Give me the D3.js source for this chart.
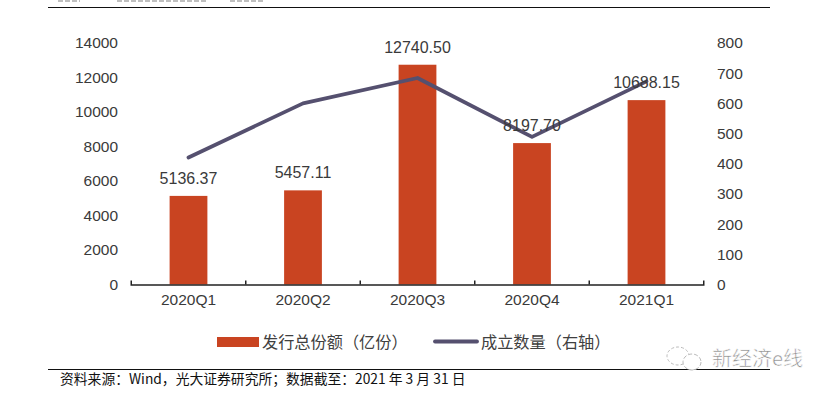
<!DOCTYPE html>
<html>
<head>
<meta charset="utf-8">
<script src="https://cdn.jsdelivr.net/npm/d3@7/dist/d3.min.js"></script>
<style>
html,body{margin:0;padding:0;background:#fff;overflow:hidden}
svg{display:block}
.num{font-family:"Liberation Sans",Arial,sans-serif;fill:#3a3a3a}
.cjk{font-family:"Noto Sans CJK SC",sans-serif;fill:#404040}
</style>
</head>
<body>
<div id="chart"></div>
<script>
const categories = ["2020Q1","2020Q2","2020Q3","2020Q4","2021Q1"];
const issueTotal = [5136.37,5457.11,12740.50,8197.70,10688.15];
const issueLabels = ["5136.37","5457.11","12740.50","8197.70","10688.15"];
const foundedCount = [421,600,684,489,673];
const leftTicks = [0,2000,4000,6000,8000,10000,12000,14000];
const rightTicks = [0,100,200,300,400,500,600,700,800];
const legendBar = "发行总份额（亿份）";
const legendLine = "成立数量（右轴）";
const sourceNote = "资料来源：Wind，光大证券研究所；数据截至：2021 年 3 月 31 日";
const watermark = "新经济e线";

const BAR = "#c94421", LINE = "#55506f", INK = "#3a3a3a";
const svg = d3.select("#chart").append("svg").attr("width",828).attr("height",393);

const x = d3.scaleBand().domain(categories).range([131.25,703.75]).paddingInner(0.67).paddingOuter(0.335);
const yL = d3.scaleLinear().domain([0,14000]).range([284.5,43]);
const yR = d3.scaleLinear().domain([0,800]).range([284.5,43]);
const cx = d => x(d)+x.bandwidth()/2;

// rules, with remnants of the cropped heading above the top one
svg.append("line").attr("x1",48).attr("x2",770).attr("y1",7.5).attr("y2",7.5).attr("stroke","#111").attr("stroke-width",1.2);
svg.append("line").attr("x1",48).attr("x2",770).attr("y1",369.5).attr("y2",369.5).attr("stroke","#111").attr("stroke-width",1.2);
svg.selectAll("line.rem").data([[58,80],[117,208],[230,263]]).join("line")
  .attr("x1",d=>d[0]).attr("x2",d=>d[1]).attr("y1",1).attr("y2",1)
  .attr("stroke","#aaa").attr("stroke-width",1.6).attr("stroke-dasharray","5 2");

// bars
svg.selectAll("rect.bar").data(categories).join("rect").attr("class","bar")
  .attr("x",d=>x(d)).attr("width",x.bandwidth())
  .attr("y",(d,i)=>yL(issueTotal[i])).attr("height",(d,i)=>yL(0)-yL(issueTotal[i]))
  .attr("fill",BAR);

// axes
const gx = svg.append("g").attr("transform",`translate(0,${yL(0)+0.5})`)
  .call(d3.axisBottom(x).tickSize(0).tickPadding(9));
gx.select(".domain").remove();
gx.selectAll("text").attr("class","num").style("font-size","15.5px").attr("fill",INK);
const edges = d3.range(categories.length+1).map(i=>x.range()[0]+i*x.step());
svg.append("path").attr("fill","none").attr("stroke","#222").attr("stroke-width",1.5)
  .attr("d",`M${edges[0]},${yL(0)-4}V${yL(0)+0.5}H${edges[5]}V${yL(0)-4}`);
svg.selectAll("line.tk").data(edges.slice(1,5)).join("line")
  .attr("x1",d=>d).attr("x2",d=>d).attr("y1",yL(0)-4).attr("y2",yL(0))
  .attr("stroke","#222").attr("stroke-width",1.5);

const gl = svg.append("g").attr("transform","translate(118,0)")
  .call(d3.axisLeft(yL).tickValues(leftTicks).tickFormat(d3.format("d")).tickSize(0).tickPadding(0));
gl.select(".domain").remove();
gl.selectAll("text").attr("class","num").style("font-size","15.5px");
const gr = svg.append("g").attr("transform","translate(717,0)")
  .call(d3.axisRight(yR).tickValues(rightTicks).tickFormat(d3.format("d")).tickSize(0).tickPadding(0));
gr.select(".domain").remove();
gr.selectAll("text").attr("class","num").style("font-size","15.5px");

// line
svg.append("path").datum(foundedCount).attr("fill","none").attr("stroke",LINE)
  .attr("stroke-width",3.8).attr("stroke-linejoin","round").attr("stroke-linecap","round")
  .attr("d",d3.line().x((d,i)=>cx(categories[i])).y(d=>yR(d)));

// data labels
svg.selectAll("text.dl").data(categories).join("text").attr("class","dl num")
  .attr("x",d=>cx(d)).attr("y",(d,i)=>yL(issueTotal[i])-12)
  .attr("text-anchor","middle").style("font-size","16px")
  .text((d,i)=>issueLabels[i]);

// legend
svg.append("rect").attr("x",217).attr("y",337).attr("width",42).attr("height",10).attr("fill",BAR);
svg.append("text").attr("class","cjk").attr("x",262).attr("y",347.5).style("font-size","16.2px").text(legendBar);
svg.append("line").attr("x1",435).attr("x2",477).attr("y1",341.5).attr("y2",341.5)
  .attr("stroke",LINE).attr("stroke-width",3.8).attr("stroke-linecap","round");
svg.append("text").attr("class","cjk").attr("x",481).attr("y",347.5).style("font-size","16.2px").text(legendLine);

// source
svg.append("text").attr("class","cjk").attr("x",60).attr("y",384)
  .style("font-size","13.8px").style("fill","#111").text(sourceNote);

// watermark
const wm = svg.append("g");
wm.append("ellipse").attr("cx",678).attr("cy",356).attr("rx",11).attr("ry",9)
  .attr("fill","#fff").attr("stroke","#bbb").attr("stroke-dasharray","3 2");
wm.append("ellipse").attr("cx",692).attr("cy",362).attr("rx",9).attr("ry",8)
  .attr("fill","#fff").attr("stroke","#bbb").attr("stroke-dasharray","4 2");
wm.append("text").attr("class","cjk").attr("x",712).attr("y",366).style("font-size","20px")
  .style("fill","#8a8a8a").style("stroke","#fff").style("stroke-width","0.6px").text(watermark);
</script>
</body>
</html>
